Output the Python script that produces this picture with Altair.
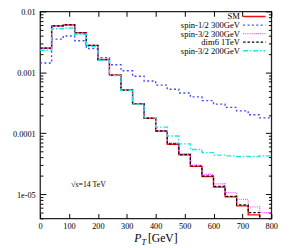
import altair as alt
import pandas as pd

# ---------------- data ----------------
edges = [0, 40, 80, 120, 160, 200, 240, 280, 320, 360, 400,
         440, 480, 520, 560, 600, 640, 680, 720, 760, 800]

names = ["SM", "spin-1/2 300GeV", "spin-3/2 300GeV", "dim6 1TeV", "spin-3/2 200GeV"]

sm = [0.0025, 0.0058, 0.0060, 0.00447, 0.00277, 0.00162, 0.00090, 0.00051, 0.000303, 0.000176,
      0.000108, 6.6e-5, 4.4e-5, 2.85e-5, 1.95e-5, 1.30e-5, 9.0e-6, 6.4e-6, 4.56e-6, 3.0e-6]
spin12_300 = [0.00142, 0.0035, 0.00395, 0.0033, 0.00246, 0.00174, 0.00133, 0.00106, 0.000862, 0.00072,
              0.000617, 0.000528, 0.000457, 0.000395, 0.000342, 0.00030, 0.000266, 0.000233, 0.000201, 0.000179]
spin32_300 = [0.00248, 0.0057, 0.0059, 0.0044, 0.00274, 0.0016, 0.00089, 0.00051, 0.000302, 0.000178,
              0.000110, 6.9e-5, 4.6e-5, 3.0e-5, 2.11e-5, 1.47e-5, 1.06e-5, 8.2e-6, 6.18e-6, 4.98e-6]
dim6_1tev = [0.00249, 0.00578, 0.0060, 0.00446, 0.00277, 0.00162, 0.00090, 0.00051, 0.000305, 0.000177,
             0.000109, 6.7e-5, 4.45e-5, 2.9e-5, 1.97e-5, 1.34e-5, 9.2e-6, 6.65e-6, 4.98e-6, 3.2e-6]
spin32_200 = [0.0023, 0.0052, 0.00535, 0.0042, 0.00267, 0.00158, 0.00088, 0.00050, 0.000300, 0.000180,
              0.000126, 9.0e-5, 6.7e-5, 5.4e-5, 4.8e-5, 4.36e-5, 4.25e-5, 4.15e-5, 4.15e-5, 4.25e-5]

series_values = [sm, spin12_300, spin32_300, dim6_1tev, spin32_200]

x_ticks = [0, 100, 200, 300, 400, 500, 600, 700, 800]
y_labels = {0.01: "0.01", 0.001: "0.001", 0.0001: "0.0001", 0.00001: "1e-05"}
annot_text = ["\u221as=14 TeV"]
annot_x = [108]
annot_y = [1.43e-5]

# ---------------- style ----------------
W, H = 238, 213
ymin, ymax = 4e-6, 1e-2
FONT = "Liberation Serif"

colors = ["#f01010", "#4646ff", "#ff4cff", "#000000", "#18e6e6"]
dashes = [[1, 0], [2, 2.5], [1, 1.2], [2.5, 2], [5, 2, 1.5, 2]]
widths = [1.4, 1.4, 1.4, 1.2, 1.4]

major = sorted(y_labels.keys())
minor = [k * 10.0 ** e for e in (-6, -5, -4, -3) for k in range(2, 10)
         if ymin * 0.999 <= k * 10.0 ** e <= ymax]
yvals = sorted(major + minor)

label_expr = " : ".join(
    f"abs(datum.value/{v} - 1) < 1e-6 ? '{t}'" for v, t in y_labels.items()
) + " : ''"
major_test = "abs(log(datum.value)/LN10 - round(log(datum.value)/LN10)) < 0.001"

xaxis = alt.Axis(values=x_ticks, title=None, domain=False, ticks=False,
                 labelPadding=3, labelFont=FONT, labelFontSize=8.5, labelColor="black",
                 labelFlush=False, grid=True, gridColor="black", gridOpacity=1, gridWidth=1,
                 gridDash=[5, H - 10, 5, 2000])
yaxis = alt.Axis(values=yvals, title=None, domain=False, ticks=False,
                 labelPadding=5, labelFont=FONT, labelFontSize=8.5, labelColor="black",
                 labelFlush=False, labelOverlap=False, labelExpr=label_expr,
                 grid=True, gridColor="black", gridOpacity=1, gridWidth=1,
                 gridDash={"condition": {"test": major_test, "value": [6, W - 12, 6, 2000]},
                           "value": [3, W - 6, 3, 2000]})

xscale = alt.Scale(domain=[0, 800], nice=False, zero=False)
yscale = alt.Scale(type="log", domain=[ymin, ymax], nice=False)


def X():
    return alt.X("x:Q", scale=xscale, axis=xaxis)


def Y():
    return alt.Y("y:Q", scale=yscale, axis=yaxis)


layers = []
for name, vals, c, d, w in zip(names, series_values, colors, dashes, widths):
    df = pd.DataFrame({"x": edges, "y": vals + [vals[-1]], "series": name})
    layers.append(
        alt.Chart(df).mark_line(interpolate="step-after", clip=True, color=c,
                                strokeDash=d, strokeWidth=w)
        .encode(x=X(), y=Y())
    )

# annotation
ann = alt.Chart(pd.DataFrame({"x": annot_x, "y": annot_y, "t": annot_text})).mark_text(
    align="left", baseline="middle", font=FONT, fontSize=8, color="black"
).encode(x=X(), y=Y(), text="t:N")
layers.append(ann)

# legend (text right-aligned, sample line on the right)
row_y = [5.3, 14.1, 22.9, 31.7, 40.5]
for name, c, d, w, ry in zip(names, colors, dashes, widths, row_y):
    one = pd.DataFrame({"t": [name]})
    layers.append(
        alt.Chart(one).mark_text(align="right", baseline="middle", font=FONT,
                                 fontSize=8.8, color="black")
        .encode(text="t:N", x=alt.value(205.7), y=alt.value(ry))
    )
    layers.append(
        alt.Chart(one).mark_rule(color=c, strokeDash=d, strokeWidth=w)
        .encode(x=alt.value(209), x2=alt.value(232), y=alt.value(ry))
    )

# axis title  P_T[GeV]
layers.append(alt.Chart(pd.DataFrame({"t": ["P"]})).mark_text(
    align="left", baseline="alphabetic", font=FONT, fontSize=12, fontStyle="italic", color="black"
).encode(text="t:N", x=alt.value(97), y=alt.value(237.5)))
layers.append(alt.Chart(pd.DataFrame({"t": ["T"]})).mark_text(
    align="left", baseline="alphabetic", font=FONT, fontSize=8.5, fontStyle="italic", color="black"
).encode(text="t:N", x=alt.value(104.5), y=alt.value(240)))
layers.append(alt.Chart(pd.DataFrame({"t": ["[GeV]"]})).mark_text(
    align="left", baseline="alphabetic", font=FONT, fontSize=12, color="black"
).encode(text="t:N", x=alt.value(111), y=alt.value(237.5)))

chart = alt.layer(*layers).properties(
    width=W, height=H,
    autosize=alt.AutoSizeParams(type="none"),
    padding={"left": 33, "top": 0, "right": 11, "bottom": 27},
).configure_view(stroke="#222222", strokeWidth=1.3)

chart.save("out.html", embed_options={"renderer": "svg", "actions": False})
